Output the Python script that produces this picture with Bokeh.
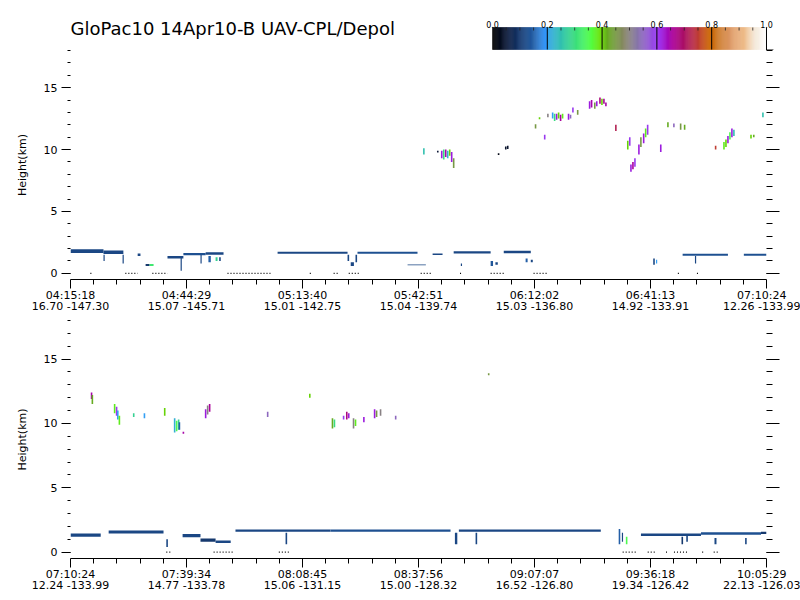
import numpy as np
from bokeh.plotting import figure
from bokeh.layouts import column
from bokeh.models import Range1d, FixedTicker, LinearAxis, Label, ColumnDataSource, LinearColorMapper
from bokeh.transform import transform
from bokeh.core.properties import value
from bokeh.embed import file_html
from bokeh.resources import INLINE

TITLE = "GloPac10 14Apr10-B UAV-CPL/Depol"
FLIGHT_START = "04:15:18"
FONT = "DejaVu Sans"

# ---- axis tick labels -------------------------------------------------------
p1_tick_times = ["04:15:18", "04:44:29", "05:13:40", "05:42:51", "06:12:02", "06:41:13", "07:10:24"]
p1_tick_lat = ["16.70", "15.07", "15.01", "15.04", "15.03", "14.92", "12.26"]
p1_tick_lon = ["-147.30", "-145.71", "-142.75", "-139.74", "-136.80", "-133.91", "-133.99"]
p2_tick_times = ["07:10:24", "07:39:34", "08:08:45", "08:37:56", "09:07:07", "09:36:18", "10:05:29"]
p2_tick_lat = ["12.24", "14.77", "15.06", "15.00", "16.52", "19.34", "22.13"]
p2_tick_lon = ["-133.99", "-133.78", "-131.15", "-128.32", "-126.80", "-126.42", "-126.03"]
height_major = [0, 5, 10, 15]
height_minor = list(range(0, 19))
height_range = (-0.5, 18.0)

# ---- colour scale (depolarisation ratio) -----------------------------------
cbar_stop_vals = [0.00, 0.05, 0.10, 0.15, 0.195, 0.21, 0.27, 0.33, 0.36, 0.395,
                  0.42, 0.48, 0.53, 0.595, 0.61, 0.66, 0.70, 0.74, 0.795,
                  0.82, 0.87, 0.92, 0.96, 1.00]
cbar_stop_colors = ["#000000", "#0d1a3a", "#163a70", "#2460a8", "#3399ff", "#33aadd",
                    "#33cc99", "#44ee66", "#55ff44", "#66dd00", "#66aa22", "#888866",
                    "#8877aa", "#9944ee", "#9922ee", "#aa0099", "#aa1166", "#bb3344",
                    "#cc6600", "#cc7722", "#dd9966", "#eebb88", "#f4e8d8", "#ffffff"]
cbar_tick_vals = [0.0, 0.2, 0.4, 0.6, 0.8, 1.0]
cbar_tick_text = ["0.0", "0.2", "0.4", "0.6", "0.8", "1.0"]
cbar_minor_vals = [0.05, 0.10, 0.15, 0.25, 0.30, 0.35, 0.45, 0.50, 0.55,
                   0.65, 0.70, 0.75, 0.85, 0.90, 0.95]

# ---- data -------------------------------------------------------------------
# boundary-layer cloud cells: (start min, end min after 04:15:18, base km, top km, depol)
p1_low_cloud = [
    (0.0, 8.3, 1.65, 1.95, 0.12), (8.3, 13.3, 1.55, 1.85, 0.12),
    (8.3, 8.6, 1.0, 1.5, 0.12), (13.1, 13.4, 0.8, 1.5, 0.12),
    (16.9, 17.6, 1.4, 1.6, 0.12), (18.9, 19.9, 0.6, 0.75, 0.10), (19.9, 20.9, 0.6, 0.75, 0.32),
    (24.4, 28.4, 1.2, 1.4, 0.12), (28.4, 34.0, 1.45, 1.65, 0.13), (34.0, 38.5, 1.5, 1.7, 0.12),
    (27.7, 28.0, 0.2, 1.3, 0.12), (32.7, 33.0, 0.8, 1.5, 0.12),
    (34.7, 35.3, 0.9, 1.4, 0.15), (36.5, 37.0, 1.0, 1.3, 0.28), (37.4, 37.8, 1.0, 1.3, 0.12),
    (52.1, 69.7, 1.58, 1.74, 0.12), (69.7, 70.1, 1.0, 1.5, 0.12), (70.5, 71.3, 0.6, 0.9, 0.12),
    (71.7, 72.1, 0.9, 1.5, 0.12), (72.2, 87.3, 1.58, 1.74, 0.13),
    (84.8, 89.4, 0.65, 0.72, 0.12), (91.1, 93.6, 1.48, 1.6, 0.12),
    (96.4, 105.7, 1.6, 1.78, 0.12), (98.2, 98.5, 0.6, 0.8, 0.12),
    (105.7, 106.3, 0.6, 1.0, 0.14), (106.9, 107.5, 0.7, 0.9, 0.12), (109.0, 115.8, 1.62, 1.82, 0.12),
    (114.5, 115.0, 0.9, 1.2, 0.15), (115.8, 116.3, 0.9, 1.1, 0.12),
    (146.6, 147.0, 0.7, 1.2, 0.12), (147.3, 147.6, 0.8, 1.1, 0.20),
    (154.0, 165.4, 1.42, 1.58, 0.13), (157.1, 157.4, 0.8, 1.4, 0.12),
    (169.4, 175.1, 1.42, 1.58, 0.13),
]
# cirrus profiles: (time min, base km, top km, depol)
p1_cirrus = [
    (88.9, 9.6, 10.1, 0.25), (92.4, 9.75, 9.9, 0.05),
    (93.4, 9.3, 9.9, 0.62), (93.9, 9.2, 10.0, 0.30), (94.4, 9.4, 10.0, 0.65), (94.9, 9.3, 9.9, 0.22),
    (95.4, 9.5, 10.0, 0.40), (95.9, 9.0, 9.8, 0.62), (96.4, 8.5, 9.3, 0.45),
    (107.7, 9.55, 9.7, 0.02), (109.5, 10.0, 10.25, 0.04), (110.0, 10.05, 10.3, 0.04),
    (117.0, 11.7, 12.05, 0.45), (118.0, 12.45, 12.6, 0.40), (119.3, 10.8, 11.2, 0.60),
    (120.1, 12.6, 12.9, 0.50), (121.3, 12.5, 13.0, 0.20), (121.8, 12.3, 12.9, 0.30),
    (122.3, 12.4, 12.9, 0.62), (122.8, 12.5, 13.0, 0.40), (123.3, 12.3, 12.8, 0.66),
    (123.8, 12.5, 12.9, 0.38), (125.3, 12.4, 12.9, 0.62), (125.8, 12.5, 12.8, 0.55),
    (126.4, 13.0, 13.4, 0.60), (127.6, 12.8, 13.2, 0.45),
    (130.6, 13.3, 13.9, 0.62), (131.1, 13.4, 14.0, 0.65), (131.9, 13.3, 13.8, 0.45),
    (132.4, 13.5, 13.9, 0.62), (133.2, 13.7, 14.2, 0.68), (133.7, 13.6, 14.1, 0.40),
    (134.2, 13.7, 14.1, 0.66), (134.7, 13.5, 13.8, 0.65),
    (137.2, 11.5, 12.0, 0.72), (140.2, 10.0, 10.7, 0.40), (140.7, 10.3, 11.0, 0.60),
    (141.0, 8.2, 8.8, 0.62), (141.5, 8.4, 9.0, 0.66), (142.0, 8.6, 9.3, 0.60),
    (143.0, 9.6, 10.4, 0.62), (143.5, 10.2, 11.0, 0.45), (144.2, 10.5, 11.3, 0.62),
    (144.7, 11.0, 11.7, 0.38), (145.2, 11.2, 12.0, 0.60),
    (148.5, 9.8, 10.4, 0.62), (150.3, 11.8, 12.2, 0.42), (151.8, 11.8, 12.1, 0.55),
    (153.5, 11.6, 12.1, 0.45), (154.5, 11.6, 12.0, 0.42), (162.3, 10.0, 10.3, 0.75),
    (164.4, 10.0, 10.6, 0.38), (164.9, 10.2, 10.8, 0.40), (165.4, 10.5, 11.1, 0.62),
    (165.9, 10.8, 11.4, 0.35), (166.4, 11.0, 11.7, 0.62), (166.9, 11.1, 11.6, 0.25),
    (171.2, 10.9, 11.2, 0.40), (171.9, 11.0, 11.2, 0.42), (174.2, 12.6, 13.0, 0.25),
]
# surface returns: (start min, end min)
p1_ground = [(5.0, 5.5), (13.8, 16.9), (20.6, 24.4), (39.5, 50.3), (60.2, 60.6), (66.2, 67.2),
             (70.0, 72.5), (88.1, 91.1), (98.0, 98.5), (105.7, 109.0), (116.5, 120.1),
             (152.8, 153.2), (157.6, 158.0)]

p2_low_cloud = [
    (175.1, 182.7, 1.2, 1.45, 0.12), (184.7, 198.5, 1.45, 1.68, 0.12), (199.2, 199.6, 0.4, 1.0, 0.12),
    (203.3, 207.8, 1.15, 1.4, 0.12), (207.8, 211.6, 0.8, 1.05, 0.10), (211.6, 215.4, 0.7, 0.9, 0.12),
    (216.6, 240.5, 1.58, 1.76, 0.12), (229.2, 229.6, 0.6, 1.5, 0.12), (240.5, 270.7, 1.58, 1.76, 0.13),
    (271.8, 272.4, 0.6, 1.5, 0.12), (272.8, 308.5, 1.58, 1.76, 0.12), (277.0, 277.4, 0.6, 1.5, 0.12),
    (313.0, 313.4, 0.6, 1.8, 0.15), (313.8, 314.1, 0.8, 1.5, 0.12), (314.8, 315.2, 0.6, 1.2, 0.35),
    (318.6, 333.7, 1.25, 1.45, 0.12), (328.8, 329.2, 0.6, 1.2, 0.10), (330.0, 330.4, 0.8, 1.3, 0.12),
    (333.7, 348.8, 1.35, 1.55, 0.13), (337.1, 337.6, 0.6, 1.1, 0.12),
    (344.8, 345.2, 0.6, 1.1, 0.12), (348.8, 350.2, 1.4, 1.58, 0.10),
]
p2_cirrus = [
    (180.4, 11.9, 12.4, 0.65), (180.6, 11.5, 12.2, 0.42),
    (186.2, 10.8, 11.5, 0.38), (186.7, 10.6, 11.3, 0.60), (187.0, 10.3, 11.0, 0.20), (187.4, 9.9, 10.6, 0.38),
    (191.0, 10.5, 10.8, 0.28), (193.7, 10.4, 10.8, 0.20), (198.8, 10.6, 11.2, 0.40),
    (201.3, 9.3, 10.4, 0.22), (201.8, 9.4, 10.2, 0.35), (202.3, 9.5, 10.3, 0.28), (202.5, 9.5, 10.1, 0.15),
    (203.5, 9.2, 9.35, 0.65), (209.1, 10.4, 11.1, 0.62), (209.6, 10.7, 11.4, 0.50), (210.1, 10.9, 11.5, 0.66),
    (224.7, 10.5, 10.9, 0.55), (235.3, 12.0, 12.3, 0.40), (241.0, 9.6, 10.4, 0.42), (241.5, 9.7, 10.3, 0.30),
    (243.8, 10.3, 10.6, 0.60), (244.6, 10.3, 10.9, 0.68), (245.1, 10.4, 10.8, 0.62),
    (246.3, 9.6, 10.4, 0.50), (246.8, 9.8, 10.3, 0.38), (248.9, 10.1, 10.5, 0.62),
    (251.6, 10.4, 11.1, 0.62), (252.1, 10.5, 11.0, 0.45), (253.1, 10.6, 11.1, 0.50),
    (256.9, 10.3, 10.6, 0.55), (280.3, 13.75, 13.9, 0.45),
]
p2_ground = [(199.2, 200.7), (211.1, 216.1), (227.5, 230.0), (314.0, 317.3), (320.3, 322.3),
             (324.9, 325.6), (326.9, 330.4), (334.0, 334.4), (336.9, 337.9)]


# ---- helpers -----------------------------------------------------------------
def to_sec(s):
    h, m, sec = (int(v) for v in s.split(":"))
    return h * 3600 + m * 60 + sec


START = to_sec(FLIGHT_START)


def hex2rgb(h):
    return [int(h[i:i + 2], 16) for i in (1, 3, 5)]


stop_rgb = np.array([hex2rgb(c) for c in cbar_stop_colors], float)
pal_x = np.linspace(0, 1, 256)
palette = ["#%02x%02x%02x" % tuple(int(round(np.interp(x, cbar_stop_vals, stop_rgb[:, k])))
                                   for k in range(3)) for x in pal_x]
mapper = LinearColorMapper(palette=palette, low=0.0, high=1.0)

LEFT, FRAME_W, RIGHT = 70, 696, 34


def make_panel(tick_times, lats, lons, frame_h, b_top, b_bottom, low_rows, ci_rows, ground_rows):
    ticks = [to_sec(t) - START for t in tick_times]
    p = figure(frame_width=FRAME_W, frame_height=frame_h,
               x_range=Range1d(ticks[0], ticks[-1]), y_range=Range1d(*height_range),
               x_axis_type=None, y_axis_type=None, output_backend="svg", toolbar_location=None,
               min_border_left=LEFT, min_border_right=RIGHT, min_border_top=b_top, min_border_bottom=b_bottom)
    p.outline_line_color = None
    p.grid.visible = False

    minors = []
    for a, b in zip(ticks[:-1], ticks[1:]):
        minors += [float(x) for x in np.linspace(a, b, 6)[1:-1]]
    xax = LinearAxis(ticker=FixedTicker(ticks=ticks, minor_ticks=minors),
                     major_label_overrides={tk: f"{tt}\n{la} {lo}" for tk, tt, la, lo in zip(ticks, tick_times, lats, lons)})
    xax.axis_line_color = "black"
    xax.major_tick_out = 9
    xax.major_tick_in = 0
    xax.minor_tick_out = 5
    xax.minor_tick_in = 0
    xax.major_label_standoff = 0
    xax.major_label_text_font = FONT
    xax.major_label_text_font_size = "11px"
    xax.major_label_text_line_height = 0.85
    xax.major_label_text_color = "black"
    p.add_layout(xax, "below")

    yax = LinearAxis(ticker=FixedTicker(ticks=height_major, minor_ticks=height_minor))
    yax.axis_line_color = None
    yax.major_tick_out = 9
    yax.major_tick_in = 0
    yax.minor_tick_out = 3
    yax.minor_tick_in = 0
    yax.major_label_standoff = 4
    yax.major_label_text_font = FONT
    yax.major_label_text_font_size = "11px"
    yax.major_label_text_color = "black"
    yax.axis_label = "Height(km)"
    yax.axis_label_text_font = FONT
    yax.axis_label_text_font_size = "11px"
    yax.axis_label_text_font_style = "normal"
    yax.axis_label_text_color = "black"
    yax.axis_label_standoff = 12
    p.add_layout(yax, "left")

    rax = LinearAxis(ticker=FixedTicker(ticks=height_major, minor_ticks=height_minor),
                     major_label_overrides={t: "" for t in height_major})
    rax.axis_line_color = None
    rax.major_tick_out = 13
    rax.major_tick_in = 0
    rax.minor_tick_out = 6
    rax.minor_tick_in = 0
    rax.major_label_standoff = 0
    p.add_layout(rax, "right")

    t0, t1, b, t, v = zip(*low_rows)
    low_src = ColumnDataSource(dict(left=[a * 60 for a in t0], right=[a * 60 for a in t1],
                                    bottom=list(b), top=list(t), v=list(v)))
    p.quad(left="left", right="right", bottom="bottom", top="top", source=low_src,
           fill_color=transform("v", mapper), line_color=None)

    ct, cb, ctop, cv = zip(*ci_rows)
    ci_src = ColumnDataSource(dict(x=[a * 60 for a in ct], y0=list(cb), y1=list(ctop), v=list(cv)))
    p.segment(x0="x", y0="y0", x1="x", y1="y1", source=ci_src,
              line_color=transform("v", mapper), line_width=1.6)

    g0, g1 = zip(*ground_rows)
    p.segment(x0=[a * 60 for a in g0], y0=[0.0] * len(g0), x1=[a * 60 for a in g1], y1=[0.0] * len(g0),
              line_color="black", line_width=1.2, line_dash="1 2")
    return p


# ---- header: title + colour bar (frame runs to the right page edge) ---------
HDR_FRAME_W = 730
hdr_x0 = -1.5401
hdr_x1 = hdr_x0 + HDR_FRAME_W / 274.0
hdr = figure(frame_width=HDR_FRAME_W, frame_height=50, x_range=Range1d(hdr_x0, hdr_x1), y_range=Range1d(0, 50),
             x_axis_type=None, y_axis_type=None, output_backend="svg", toolbar_location=None,
             min_border_left=LEFT, min_border_right=0, min_border_top=0, min_border_bottom=0)
hdr.outline_line_color = None
hdr.grid.visible = False
edges = np.linspace(0, 1, len(palette) + 1)
hdr.quad(left=edges[:-1], right=edges[1:], bottom=1, top=23, fill_color=palette, line_color=palette,
         line_width=0.5)
hdr.segment(x0=cbar_tick_vals[1:-1], y0=[1] * 4, x1=cbar_tick_vals[1:-1], y1=[23] * 4,
            line_color="black", line_width=1)
hdr.segment(x0=cbar_minor_vals, y0=[20] * len(cbar_minor_vals), x1=cbar_minor_vals,
            y1=[23] * len(cbar_minor_vals), line_color="#222222", line_width=0.8)
hdr.segment(x0=[1.0, 1.0], y0=[-2, 0.5], x1=[1.0, 1.0255], y1=[23, 0.5], line_color="black", line_width=1)
hdr.text(x=cbar_tick_vals, y=[26] * len(cbar_tick_vals), text=cbar_tick_text,
         text_align="center", text_baseline="alphabetic", text_font=value(FONT), text_font_size="8px",
         text_color="black")
hdr.add_layout(Label(x=hdr_x0, y=22, text=TITLE, text_font=FONT, text_font_size="18px",
                     text_baseline="alphabetic", text_color="black"))

p1 = make_panel(p1_tick_times, p1_tick_lat, p1_tick_lon, 229, 0, 36, p1_low_cloud, p1_cirrus, p1_ground)
p2 = make_panel(p2_tick_times, p2_tick_lat, p2_tick_lon, 238, 5, 42, p2_low_cloud, p2_cirrus, p2_ground)

layout = column(hdr, p1, p2, spacing=0)
open("out.html", "w").write(file_html(layout, INLINE))
